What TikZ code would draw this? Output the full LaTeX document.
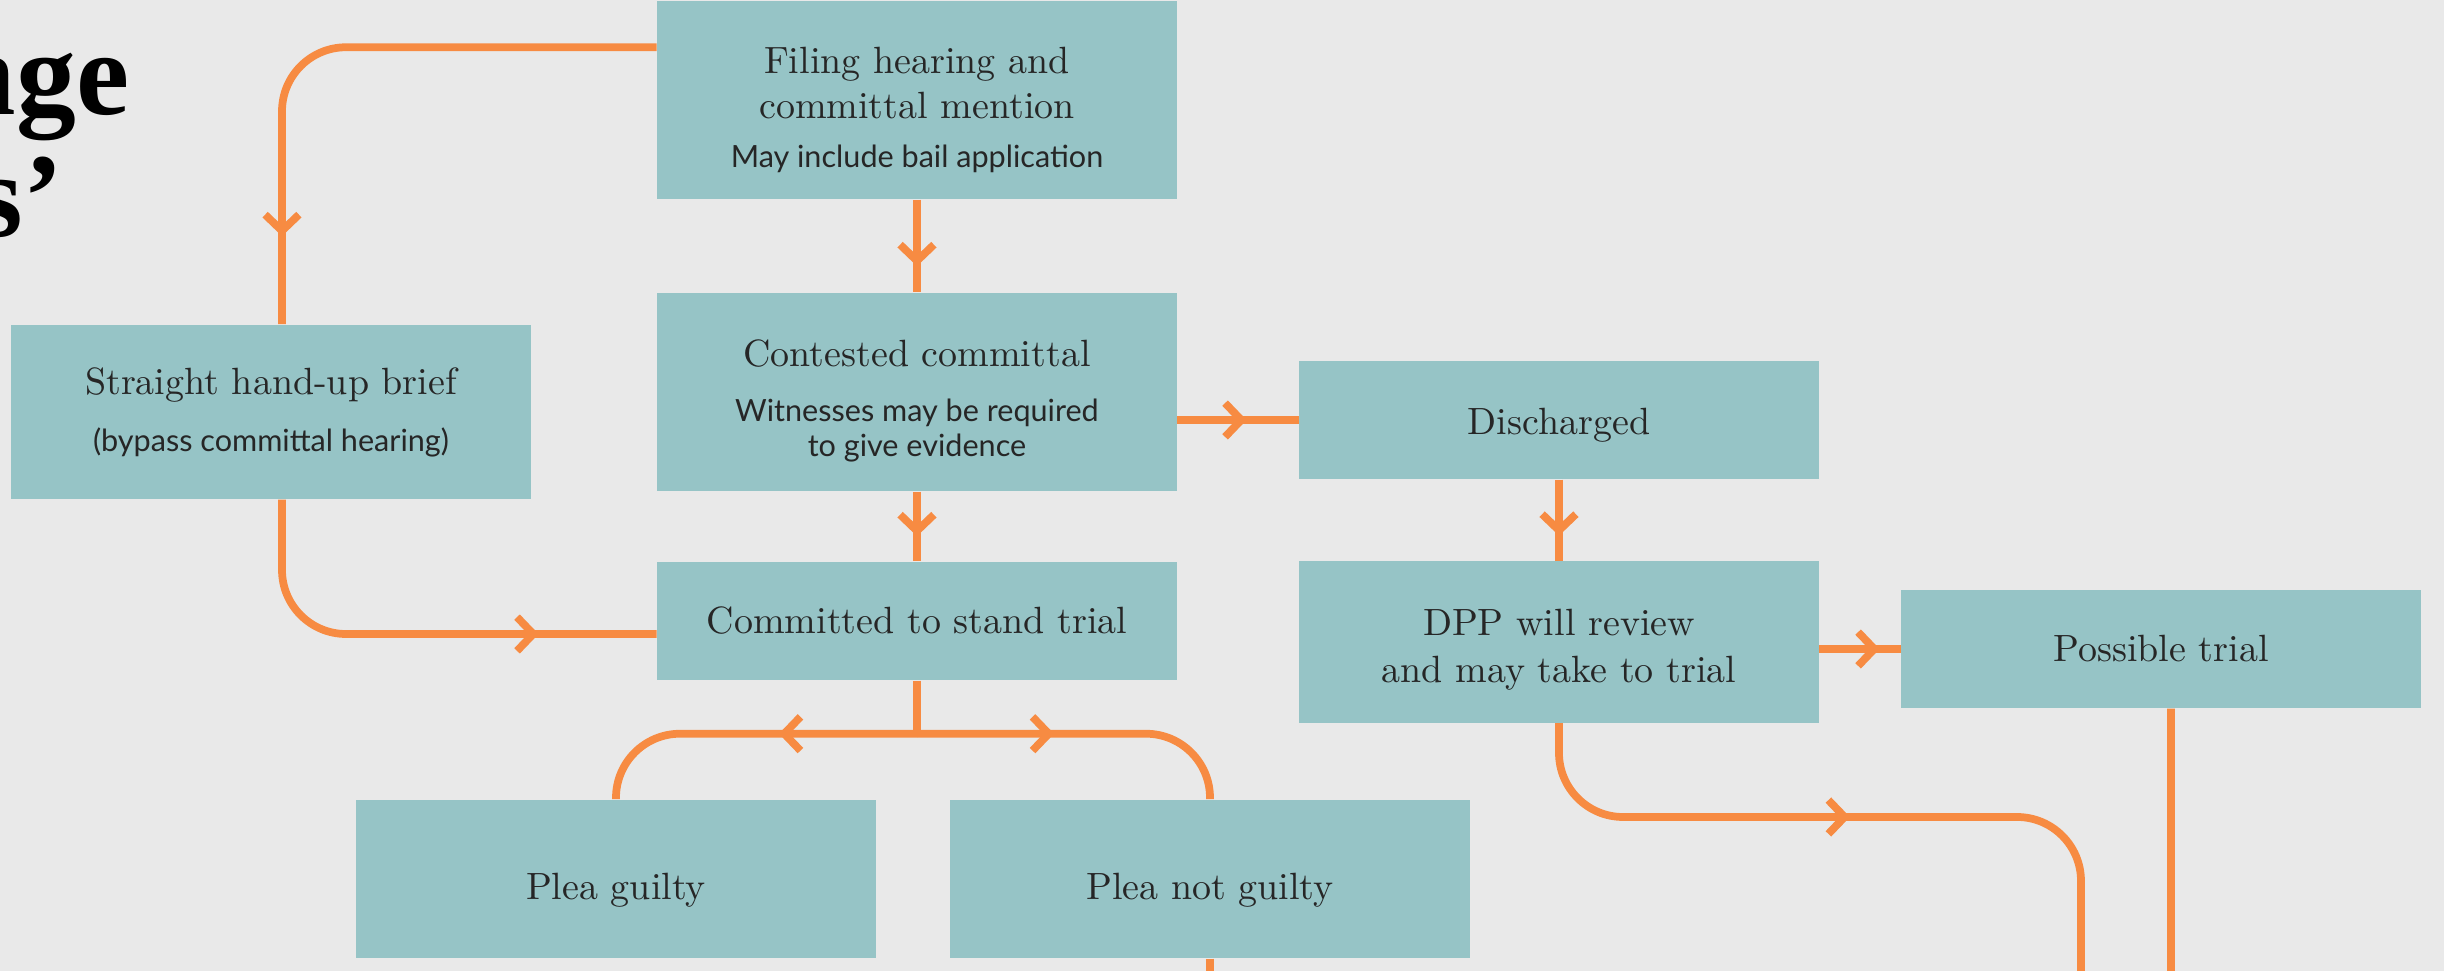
\documentclass[tikz,border=0pt]{standalone}
\usepackage{fontspec}
\usepackage{xcolor}
\usetikzlibrary{arrows.meta, decorations.markings}
\newfontfamily\subfont{Lato}
\newfontfamily\headfont{Liberation Serif}
\definecolor{paper}{HTML}{E9E9E9}
\definecolor{boxteal}{HTML}{96C4C6}
\definecolor{flowor}{HTML}{F78B42}
\definecolor{ink}{HTML}{262626}
\newcommand{\subtxt}{\subfont\fontsize{8.7}{10}\selectfont}
\newcommand{\lift}[1]{\rule{0pt}{#1}}
\tikzset{chev/.tip={Straight Barb[length=4.6pt, width=9.6pt]}}
\tikzset{midarrow/.style={postaction={decorate},
    decoration={markings, mark=at position #1 with {\arrow{chev}}}}}
\tikzstyle{flow} = [line width=2.2pt, color=flowor]

\begin{document}
\begin{tikzpicture}[x=0.01cm, y=-0.01cm,
    stepbox/.style={rectangle, fill=boxteal, text=ink, align=center, inner sep=0pt,
      minimum width=5.19cm, font=\fontsize{10.8}{12.8}\selectfont},
    headline/.style={anchor=base east, inner sep=0pt, text=black,
      font=\headfont\bfseries\fontsize{34}{34}\selectfont}
  ]
    \useasboundingbox (0,0) rectangle (2444,971);
    \fill[paper] (0,0) rectangle (2444,971);
    \clip (0,0) rectangle (2444,971);

    % title, cut at the left edge
    \node[headline] (title1) at (130,115) {nge};
    \node[headline] (title2) at (64,237) {s’};

    % boxes
    \node[stepbox, minimum height=1.98cm] (filing) at (917,100)
      {\lift{13pt}Filing hearing and\\committal mention\\[1.1pt]{\subtxt May include bail application}};
    \node[stepbox, minimum height=1.98cm] (contested) at (917,392)
      {\lift{12.6pt}Contested committal\\[2.8pt]{\subtxt Witnesses may be required}\\[-2.8pt]{\subtxt to give evidence}};
    \node[stepbox, minimum height=1.74cm] (straight) at (271,412)
      {Straight hand-up brief\\[3.4pt]{\subtxt (bypass committal hearing)}};
    \node[stepbox, minimum height=1.18cm] (committed) at (917,621) {Committed to stand trial};
    \node[stepbox, minimum height=1.18cm] (discharged) at (1559,420) {\lift{10.3pt}Discharged};
    \node[stepbox, minimum height=1.61cm] (dpp) at (1559,642)
      {\lift{12pt}DPP will review\\[0.6pt]and may take to trial};
    \node[stepbox, minimum height=1.18cm] (possible) at (2161,649) {Possible trial};
    \node[stepbox, minimum height=1.58cm] (pleag) at (616,879) {\lift{13.7pt}Plea guilty};
    \node[stepbox, minimum height=1.58cm] (pleang) at (1210,879) {\lift{13.7pt}Plea not guilty};

    % loose ends beyond the edges
    \coordinate (inF) at (917,-40);
    \coordinate (outN) at (1210,1010);
    \coordinate (outP) at (2171,1010);
    \coordinate (outD) at (2081,1010);
    \coordinate (turnD) at (2081,817);

    % connectors
    \draw[flow] (inF) -- (filing);
    \draw[flow, midarrow=-0.26cm] (filing) -- (contested);
    \draw[flow, midarrow=-0.25cm] (contested) -- (committed);
    \draw[flow, midarrow=-0.52cm] (contested.east |- discharged) -- (discharged);
    \draw[flow, midarrow=-0.25cm] (discharged) -- (dpp);
    \draw[flow, midarrow=-0.21cm] (dpp.east |- possible) -- (possible);
    \draw[flow, rounded corners=0.64cm, midarrow=-0.88cm]
      ([yshift=-0.47cm]filing.north west) -| ([xshift=0.11cm]straight.north);
    \draw[flow, rounded corners=0.64cm, midarrow=-1.18cm]
      ([xshift=0.11cm]straight.south) |- ([yshift=-0.13cm]committed.west);
    \draw[flow] (committed.south) -- ++(0,53) coordinate (fork);
    \draw[flow, rounded corners=0.64cm, midarrow=1.38cm] (fork) -| (pleag);
    \draw[flow, rounded corners=0.64cm, midarrow=1.37cm] (fork) -| (pleang);
    \draw[flow] (pleang) -- (outN);
    \draw[flow] ([xshift=0.1cm]possible.south) -- (outP);
    \draw[flow, rounded corners=0.64cm, midarrow=3.57cm] (dpp) |- (turnD) -- (outD);
\end{tikzpicture}
\end{document}
